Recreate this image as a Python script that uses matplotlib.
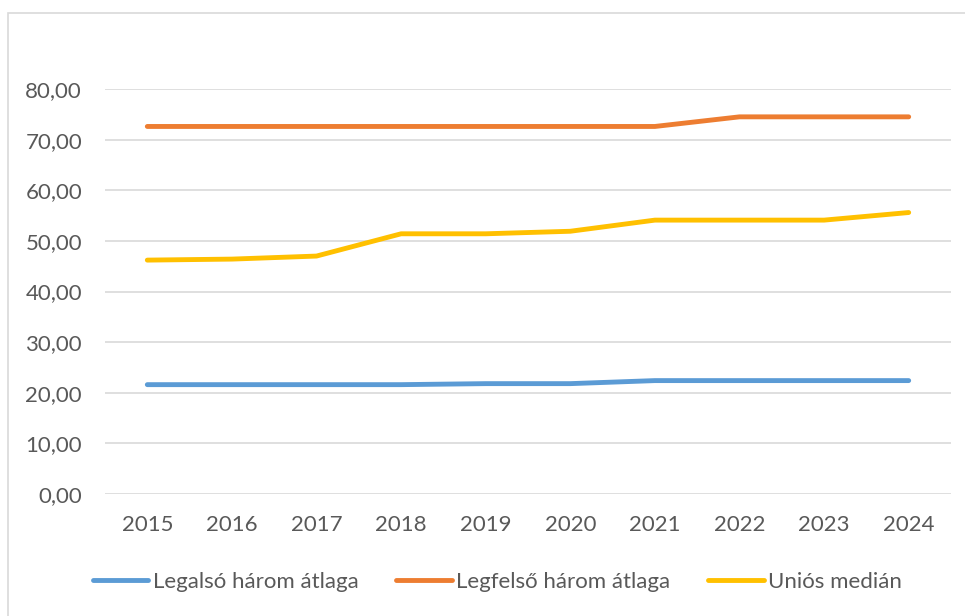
import matplotlib.pyplot as plt
from matplotlib.patches import Rectangle
from matplotlib.ticker import FuncFormatter

years = ['2015', '2016', '2017', '2018', '2019', '2020', '2021', '2022', '2023', '2024']
legalso = [21.6, 21.6, 21.6, 21.6, 21.8, 21.8, 22.4, 22.4, 22.4, 22.4]
legfelso = [72.6, 72.6, 72.6, 72.6, 72.6, 72.6, 72.6, 74.5, 74.5, 74.5]
unios = [46.2, 46.4, 47.0, 51.4, 51.4, 51.9, 54.1, 54.1, 54.1, 55.6]
labels = ['Legalsó három átlaga', 'Legfelső három átlaga', 'Uniós medián']
colors = ['#5b9bd5', '#ed7d31', '#ffc000']

plt.rcParams['font.family'] = ['Lato', 'DejaVu Sans']

fig = plt.figure(figsize=(9.65, 6.16), dpi=100)
# chart border (cropped on the right and bottom)
top = 1 - 13 / 616
fig.patches.append(Rectangle((8 / 965, -0.1), 1.2, top + 0.1,
                             transform=fig.transFigure, fill=False,
                             edgecolor='#d9d9d9', linewidth=1.2))

ax = fig.add_axes([105 / 965, 1 - 494 / 616, (951 - 105) / 965, (494 - 89) / 616])

x = range(len(years))
for vals, lab, col in zip([legalso, legfelso, unios], labels, colors):
    ax.plot(x, vals, color=col, linewidth=3.5, solid_capstyle='round', label=lab)

ax.set_xlim(-0.5, len(years) - 0.5)
ax.set_ylim(0, 80)
ax.set_yticks(range(0, 81, 10))
ax.yaxis.set_major_formatter(FuncFormatter(lambda v, p: f'{v:.2f}'.replace('.', ',')))
ax.set_xticks(list(x))
ax.set_xticklabels(years)
ax.grid(axis='y', color='#d9d9d9', linewidth=1.2)
ax.set_axisbelow(True)
for s in ax.spines.values():
    s.set_visible(False)
ax.tick_params(length=0, labelsize=16, labelcolor='#595959')
ax.tick_params(axis='x', pad=15)
ax.tick_params(axis='y', pad=16.5)

fig.legend(loc='center', bbox_to_anchor=(0.5155, 1 - 582 / 616), ncol=3, frameon=False,
           fontsize=16, labelcolor='#595959', handlelength=2.5, handletextpad=0.2,
           columnspacing=1.7)

fig.savefig('out.png', dpi=100)
